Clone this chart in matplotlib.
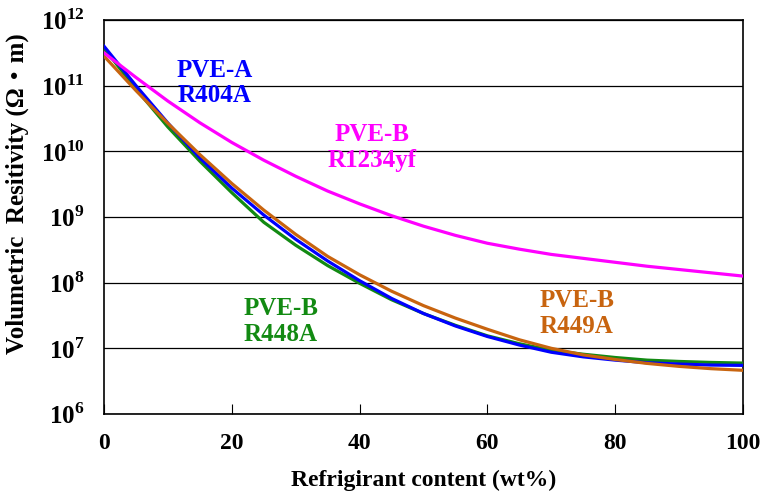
import numpy as np
import matplotlib
matplotlib.use('Agg')
import matplotlib.pyplot as plt

plt.rcParams['font.family'] = ['Liberation Serif', 'Noto Sans CJK JP']
plt.rcParams['font.weight'] = 'bold'
plt.rcParams['mathtext.fontset'] = 'custom'
plt.rcParams['mathtext.rm'] = 'Liberation Serif:bold'
plt.rcParams['mathtext.bf'] = 'Liberation Serif:bold'

# refrigerant content (wt%)
content = [0, 5, 10, 15, 20, 25, 30, 35, 40, 45, 50,
           55, 60, 65, 70, 75, 80, 85, 90, 95, 100]

# log10 of volumetric resistivity
r404a = [11.60, 11.00, 10.43, 9.90, 9.44, 9.03, 8.66, 8.33, 8.03, 7.76, 7.53,
         7.34, 7.18, 7.05, 6.94, 6.87, 6.82, 6.78, 6.76, 6.745, 6.74]
r448a = [11.57, 10.95, 10.37, 9.85, 9.37, 8.92, 8.57, 8.26, 7.99, 7.74, 7.53,
         7.35, 7.19, 7.07, 6.97, 6.91, 6.86, 6.82, 6.80, 6.785, 6.775]
r449a = [11.45, 10.925, 10.425, 9.95, 9.51, 9.105, 8.735, 8.40, 8.12, 7.87, 7.65,
         7.46, 7.29, 7.13, 7.00, 6.90, 6.83, 6.77, 6.725, 6.69, 6.665]
r1234yf = [11.50, 11.125, 10.765, 10.435, 10.135, 9.865, 9.62, 9.395, 9.20, 9.02, 8.86,
           8.72, 8.60, 8.51, 8.43, 8.37, 8.31, 8.25, 8.20, 8.15, 8.10]

series = [
    (r448a, '#128a12', 'PVE-B\nR448A', 27.7, 7.41),
    (r404a, '#0000ff', 'PVE-A\nR404A', 17.3, 11.04),
    (r449a, '#c8640f', 'PVE-B\nR449A', 74.0, 7.53),
    (r1234yf, '#ff00ff', 'PVE-B\nR1234yf', 42.0, 10.06),
]

fig = plt.figure(figsize=(7.61, 4.94), dpi=100)
ax = fig.add_axes([0.1367, 0.162, 0.8396, 0.7975])

for vals, col, lab, tx, ty in series:
    ax.plot(content, 10 ** np.array(vals), color=col, lw=2.3, zorder=3)
    ax.text(tx, 10 ** ty, lab, color=col, fontsize=18, fontweight='bold',
            ha='center', va='center', linespacing=1.15, zorder=4)

ax.set_yscale('log')
ax.set_xlim(0, 100)
ax.set_ylim(1e6, 1e12)
ax.set_xticks([0, 20, 40, 60, 80, 100])
ax.set_yticks([10.0 ** k for k in range(6, 13)])
ax.set_yticklabels([r'$10^{%d}$' % k for k in range(6, 13)])
ax.minorticks_off()
ax.yaxis.grid(True, color='black', lw=0.9)
ax.set_axisbelow(True)

ax.tick_params(axis='x', direction='in', length=7, width=0.8, pad=14,
               labelsize=17)
ax.tick_params(axis='y', length=0, pad=14, labelsize=18)
for s in ax.spines.values():
    s.set_linewidth(1.2)
    s.set_color('black')

ax.set_xlabel('Refrigirant content (wt%)', fontsize=17, fontweight='bold',
              labelpad=11)
ax.set_ylabel('Volumetric  Resitivity (Ω・m)', fontsize=18, fontweight='bold')
ax.yaxis.set_label_coords(-0.118, 0.56)

fig.savefig('out.png', dpi=100)
